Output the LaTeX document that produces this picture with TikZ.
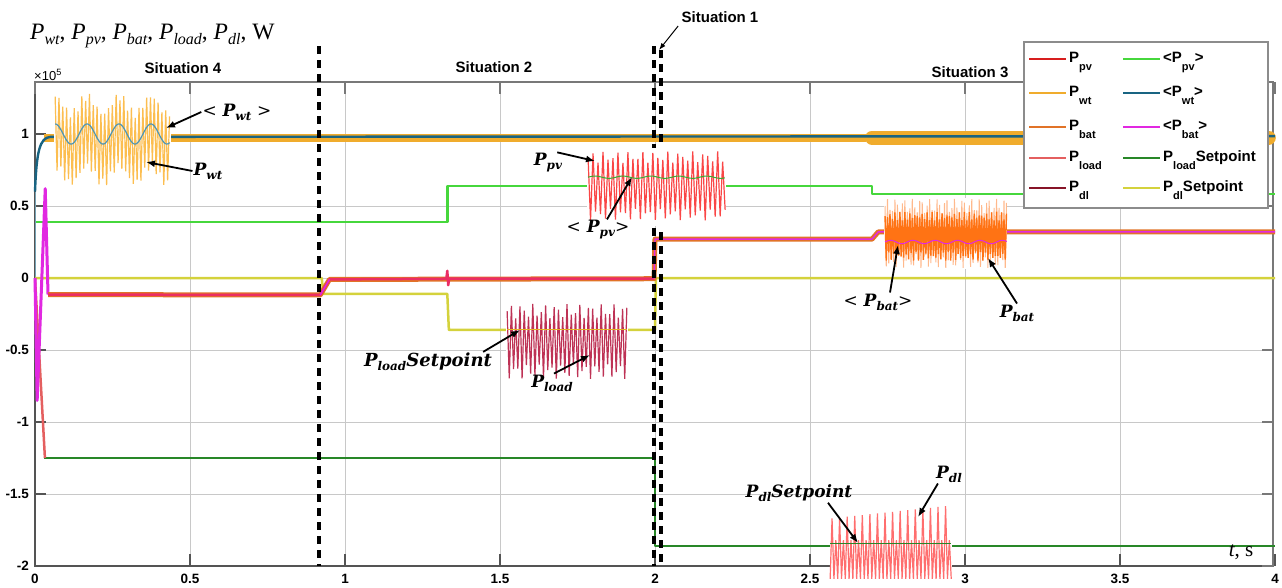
\documentclass[tikz,border=0pt]{standalone}
\usepackage{fontspec}
\setmainfont{Liberation Serif}
\setsansfont{Liberation Sans}
\newfontfamily\annfont{DejaVu Serif}
\usetikzlibrary{arrows.meta}

\definecolor{cpv}{RGB}{215,30,30}
\definecolor{cpvin}{RGB}{250,70,70}
\definecolor{cpvavg}{RGB}{70,215,60}
\definecolor{cwt}{RGB}{240,172,45}
\definecolor{cwtlt}{RGB}{252,190,80}
\definecolor{cwtavg}{RGB}{25,100,130}
\definecolor{cwtin}{RGB}{80,150,180}
\definecolor{cbat}{RGB}{225,115,40}
\definecolor{cbatin}{RGB}{255,115,20}
\definecolor{cbatlt}{RGB}{255,185,140}
\definecolor{cbatavg}{RGB}{225,40,225}
\definecolor{cmix}{RGB}{235,45,100}
\definecolor{cload}{RGB}{228,95,95}
\definecolor{cloadin}{RGB}{190,50,85}
\definecolor{cloadset}{RGB}{40,135,40}
\definecolor{cdl}{RGB}{135,20,40}
\definecolor{cdlin}{RGB}{255,110,110}
\definecolor{cdlset}{RGB}{212,210,60}
\definecolor{gridgray}{RGB}{200,200,200}
\definecolor{axisgray}{RGB}{120,120,120}
\definecolor{leggray}{RGB}{140,140,140}

\newcommand\lsub[1]{\raisebox{-8pt}{\fontsize{11}{11}\selectfont #1}}
\newcommand\asub[1]{\raisebox{-4pt}{\fontsize{12}{12}\selectfont #1}}
\newcommand\ysub[1]{\raisebox{-5pt}{\fontsize{16}{16}\selectfont\itshape #1}}
\newcommand\abr[1]{{\mdseries\upshape #1}}

\begin{document}
\begin{tikzpicture}[x=1pt, y=-1pt,
	gridline/.style={draw=gridgray, line width=0.8pt},
	sitline/.style={black, line width=3.2pt, dash pattern=on 8pt off 6pt},
	curve/.style={line width=2.5pt, line join=round},
	spikes/.style={line width=1.2pt},
	ann/.style={font=\annfont\bfseries\itshape\fontsize{#1}{#1}\selectfont, inner sep=1pt},
	ann/.default=17,
	annarrow/.style={-{Latex[length=9pt,width=7pt]}, line width=1.8pt},
	ticklbl/.style={font=\sffamily\bfseries\fontsize{13.5}{13.5}\selectfont, inner sep=1pt},
	sitlbl/.style={font=\sffamily\bfseries\fontsize{15}{15}\selectfont},
	leg/.style={font=\sffamily\bfseries\fontsize{15}{15}\selectfont, anchor=base west, inner sep=0pt}]
	\useasboundingbox (0,0) rectangle (1282,587);

	\foreach \i in {1,...,7}
		\draw[gridline] (35+155*\i,82) -- (35+155*\i,566);
	\foreach \i in {-3,...,2}
		\draw[gridline] (35,278-72*\i) -- (1273,278-72*\i);
	\draw[axisgray, line width=1.2pt] (35,82) rectangle (1273,566);
	\draw[axisgray!70!black, line width=2pt] (35,82) -- (35,566) -- (1273,566);
	\foreach \i/\l in {0/0,1/0.5,2/1,3/1.5,4/2,5/2.5,6/3,7/3.5,8/4} {
		\draw[axisgray!70!black, line width=1.5pt] (35+155*\i,566) -- ++(0,-12);
		\draw[axisgray, line width=1.2pt] (35+155*\i,82) -- ++(0,12);
		\node[ticklbl] (xt\i) at (35+155*\i,579) {\l};
	}
	\foreach \i/\l in {-4/-2,-3/-1.5,-2/-1,-1/-0.5,0/0,1/0.5,2/1} {
		\draw[axisgray!70!black, line width=1.5pt] (35,278-72*\i) -- ++(11,0);
		\draw[axisgray, line width=1.2pt] (1273,278-72*\i) -- ++(-11,0);
		\node[ticklbl, anchor=east] (yt\i) at (30,278-72*\i) {\l};
	}

	\begin{scope}[shift={(35,278)}, x=310pt, y=144pt]
		\draw[curve, cpvavg] (0,0.39) -- (1.33,0.39) -- (1.33,0.64) -- (2.7,0.64) -- (2.7,0.585) -- (4,0.585);
		\draw[cwt, line width=8pt] (0.03,0.975) -- (2.68,0.975);
		\draw[cwt, line width=14pt, line cap=round] (2.7,0.975) -- (3.98,0.975);
		\draw[cwtavg!60, line width=1pt] (0,0) -- (0,0.6);
		\draw[cwtavg, line width=2.4pt] (0,0.6) .. controls (0.005,0.88) and (0.015,0.975) .. (0.05,0.98) -- (4,0.985);
		\draw[curve, cloadset] (0.03,-1.25) -- (2,-1.25) -- (2,-1.86) -- (4,-1.86);
		\draw[curve, cdlset] (0,0) -- (0.925,0) -- (0.93,-0.11) -- (1.33,-0.11) -- (1.335,-0.36) -- (2,-0.36) -- (2.003,0) -- (4,0);
		\draw[curve, cload] (0,0) -- (0.032,-1.25);
		\draw[cbatavg, line width=3pt, line join=round] (0,0) -- (0.007,-0.85) -- (0.033,0.62) -- (0.042,-0.115);
		\draw[cbat, line width=5pt, line join=round] (0.042,-0.115) -- (0.92,-0.118) -- (0.95,-0.01) -- (1.997,-0.005) -- (2,0.27) -- (2.7,0.27) -- (2.72,0.32) -- (4,0.32);
		\draw[cmix, line width=2.5pt, line join=round] (0.042,-0.115) -- (0.92,-0.118) -- (0.95,-0.01) -- (1.327,-0.005) -- (1.33,0.05) -- (1.333,-0.05) -- (1.336,-0.005) -- (1.997,-0.005);
		\draw[cbatavg, line width=1.4pt, line join=round] (0.92,-0.118) -- (0.95,-0.01) (1.997,-0.005) -- (2,0.27) -- (2.7,0.27) -- (2.72,0.32) -- (4,0.32);
	\end{scope}

	\coordinate (d1a) at (319,46);
	\coordinate (d1b) at (319,566);
	\coordinate (d2a) at (654,46);
	\coordinate (d2b) at (654,566);
	\coordinate (d3a) at (661,50);
	\coordinate (d3b) at (661,566);
	\draw[sitline] (d1a) -- (d1b);
	\draw[sitline] (d2a) -- (d2b);
	\draw[sitline] (d3a) -- (d3b);

	\begin{scope}[shift={(35,278)}, x=310pt, y=144pt]
		\fill[white] (0.062,0.66) rectangle (0.438,1.28);
		\draw[cwtlt, spikes] plot[samples at={0,...,60}] ({0.065+0.00615*\x}, {0.96+0.06*cos(21.5*\x)+(1-2*mod(\x,2))*(0.24+0.03*sin(83*\x))});
		\draw[cwtin, line width=1.2pt] plot[domain=0.065:0.435, samples=90] (\x, {1.0+0.07*cos(3495*(\x-0.065))});

		\fill[white] (1.782,0.36) rectangle (2.228,0.90);
		\draw[cpvin, spikes] plot[samples at={0,...,55}] ({1.784+0.00804*\x}, {0.64+(1-2*mod(\x,2))*(0.2+0.04*sin(71*\x))});
		\draw[cpvavg!80!black, line width=1pt] plot[domain=1.784:2.226, samples=60] (\x, {0.70+0.008*sin(4000*(\x-1.784))});

		\fill[white] (1.52,-0.715) rectangle (1.913,-0.16);
		\draw[cloadin, spikes] plot[samples at={0,...,56}] ({1.523+0.0069*\x}, {-0.44+(1-2*mod(\x,2))*(0.21+0.05*sin(67*\x))});
		\draw[cdlset!60!orange, line width=0.8pt] (1.523,-0.354) -- (1.91,-0.354);

		\fill[white] (2.74,0.065) rectangle (3.137,0.558);
		\draw[cbatlt, line width=1pt] plot[samples at={0,...,98}] ({2.742+0.004*\x}, {0.31+(1-2*mod(\x,2))*(0.19+0.05*sin(53*\x))});
		\draw[cbatin, line width=1.4pt] plot[samples at={0,...,98}] ({2.742+0.004*\x}, {0.29+(1-2*mod(\x,2))*(0.14+0.03*sin(97*\x))});
		\draw[cbatavg, line width=1pt] plot[domain=2.742:3.135, samples=70] (\x, {0.25+0.012*sin(5000*(\x-2.742))});

		\fill[white] (2.563,-2.1) rectangle (2.957,-1.57);
		\draw[cdlin, spikes] plot[samples at={0,...,64}] ({2.565+0.0061*\x}, {ifthenelse(mod(\x,2)==0, -2.09, ifthenelse(mod(\x,4)==1, -1.67+0.0014*\x, -1.82))});
		\draw[cloadset, line width=1pt] (2.565,-1.847) -- (2.955,-1.847);
	\end{scope}

	\draw[fill=white, draw=leggray, line width=1.2pt] (1024,42) rectangle (1268,208);
	\foreach \y/\ca/\ta/\cb/\tb [count=\n] in {59/cpv/{P\lsub{pv}}/cpvavg/{<P\lsub{pv}>},
			93/cwt/{P\lsub{wt}}/cwtavg/{<P\lsub{wt}>},
			127/cbat/{P\lsub{bat}}/cbatavg/{<P\lsub{bat}>},
			158/cload/{P\lsub{load}}/cloadset/{P\lsub{load}Setpoint},
			188/cdl/{P\lsub{dl}}/cdlset/{P\lsub{dl}Setpoint}} {
		\draw[\ca, line width=2.5pt] (1029,\y) -- (1066,\y);
		\node[leg] (lega\n) at (1069,\y+3) {\ta};
		\draw[\cb, line width=2.5pt] (1123,\y) -- (1160,\y);
		\node[leg] (legb\n) at (1163,\y+3) {\tb};
	}

	\node[anchor=base west, inner sep=0pt, font=\fontsize{23.5}{23.5}\selectfont] (ylbl) at (30,39)
		{\textit{P}\ysub{wt}, \textit{P}\ysub{pv}, \textit{P}\ysub{bat}, \textit{P}\ysub{load}, \textit{P}\ysub{dl}, W};
	\node[font=\fontsize{21}{21}\selectfont] (xlbl) at (1241,552) {\textit{t}, s};
	\node[anchor=west, inner sep=0pt, font=\sffamily\fontsize{13}{13}\selectfont] (expo) at (34,75) {×10\textsuperscript{5}};

	\node[sitlbl] (sit4) at (183,68) {Situation 4};
	\node[sitlbl] (sit2) at (494,67) {Situation 2};
	\node[sitlbl] (sit3) at (970,72) {Situation 3};
	\node[sitlbl] (sit1) at (720,17) {Situation 1};
	\coordinate (s1tip) at (659,50);
	\draw[-{Latex[length=7pt,width=5pt]}, line width=1pt] (sit1.south west) -- (s1tip);

	\coordinate (twtavg) at (166,128);
	\coordinate (twt) at (146,162);
	\coordinate (tpv) at (595,161);
	\coordinate (tpvavg) at (632,177);
	\coordinate (tbatavg) at (898,245);
	\coordinate (tbat) at (988,258);
	\coordinate (tls) at (520,330);
	\coordinate (tload) at (590,355);
	\coordinate (tds) at (858,543);
	\coordinate (tdl) at (918,517);

	\node[ann] (lwtavg) at (237,112) {\abr{<}~P\asub{wt}~\abr{>}};
	\node[ann] (lwt) at (208,171) {P\asub{wt}};
	\node[ann] (lpv) at (548,163) {P\asub{pv}};
	\node[ann] (lpvavg) at (598,230) {\abr{<}~P\asub{pv}\abr{>}};
	\node[ann] (lbatavg) at (878,302) {\abr{<}~P\asub{bat}\abr{>}};
	\node[ann] (lbat) at (1017,313) {P\asub{bat}};
	\node[ann=18] (lls) at (428,362) {P\asub{load}Setpoint};
	\node[ann] (lload) at (552,383) {P\asub{load}};
	\node[ann] (lds) at (799,493) {P\asub{dl}Setpoint};
	\node[ann] (ldl) at (949,474) {P\asub{dl}};

	\draw[annarrow] (lwtavg.west) -- (twtavg);
	\draw[annarrow] (lwt.west) -- (twt);
	\draw[annarrow] ([xshift=-6pt]lpv.north east) -- (tpv);
	\draw[annarrow] ([xshift=9pt]lpvavg.north) -- (tpvavg);
	\draw[annarrow] ([xshift=12pt]lbatavg.north) -- (tbatavg);
	\draw[annarrow] (lbat.north) -- (tbat);
	\draw[annarrow] ([xshift=-10pt]lls.north east) -- (tls);
	\draw[annarrow] ([xshift=2pt]lload.north) -- (tload);
	\draw[annarrow] ([xshift=29pt]lds.south) -- (tds);
	\draw[annarrow] ([xshift=3pt]ldl.south west) -- (tdl);
\end{tikzpicture}
\end{document}
